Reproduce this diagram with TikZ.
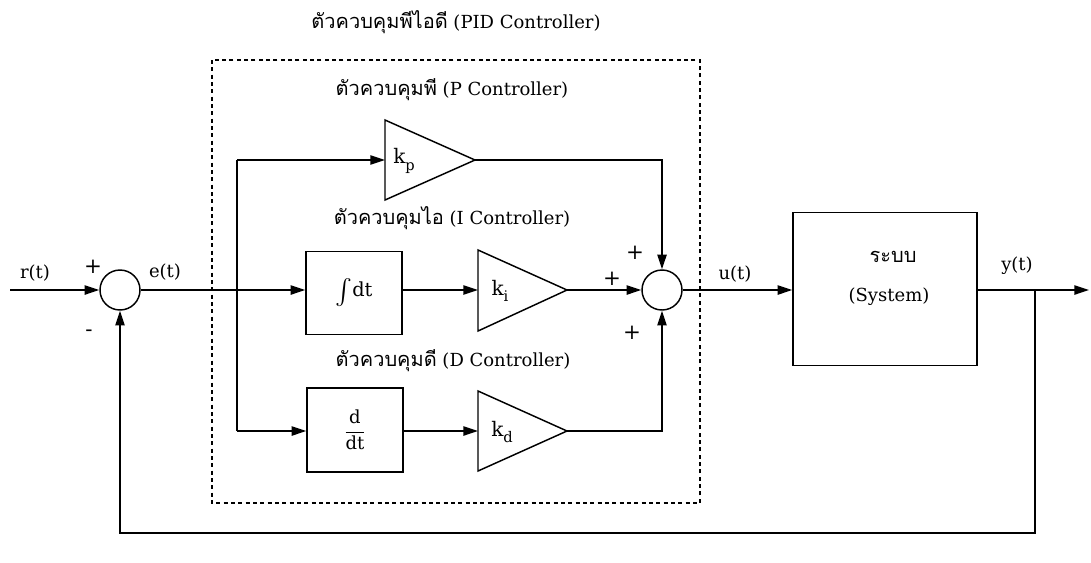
\documentclass[tikz,border=0pt]{standalone}
\usepackage{fontspec}
\usepackage{graphicx}
\setmainfont{DejaVu Serif}
\newfontfamily\thaifont[Script=Thai]{Loma}
\newcommand{\thaitext}[1]{{\thaifont\fontsize{15}{17}\selectfont #1}}
\usetikzlibrary{arrows.meta}
\begin{document}
\begin{tikzpicture}[x=0.75pt,y=-0.75pt,line width=1.1pt,
  >={Triangle[length=11pt,width=7pt]},
  sumj/.style={draw,circle,minimum size=30pt,inner sep=0pt},
  blockbox/.style={draw,inner sep=0pt},
  gain/.style={draw,line join=miter},
  lbl/.style={font=\fontsize{13.5}{16}\selectfont,inner sep=1pt},
  klbl/.style={font=\fontsize{15}{17}\selectfont,inner sep=1pt},
  sign/.style={font=\fontsize{16}{18}\selectfont,inner sep=0pt}]
\useasboundingbox (0,0) rectangle (1091,562);

% dashed PID boundary
\draw[dash pattern=on 3pt off 2.5pt, line width=0.8pt] (212,60) rectangle (700,503);

% titles
\node[lbl] (tpid) at (456,22) {\thaitext{ตัวควบคุมพีไอดี} (PID Controller)};
\node[lbl] (tp) at (452,90) {\thaitext{ตัวควบคุมพี} (P Controller)};
\node[lbl] (ti) at (452,218) {\thaitext{ตัวควบคุมไอ} (I Controller)};
\node[lbl] (td) at (453,361) {\thaitext{ตัวควบคุมดี} (D Controller)};

% summing junctions
\node[sumj] (s1) at (120,290) {};
\node[sumj] (s2) at (662,290) {};

% blocks
\node[blockbox,minimum width=72pt,minimum height=62pt] (int) at (354,293)
  {\fontsize{14.5}{16}\selectfont\raisebox{-0.55ex}{\scalebox{1.9}{$\int$}}dt};
\node[blockbox,minimum width=72pt,minimum height=63pt] (der) at (355,430)
  {\fontsize{13.5}{16}\selectfont$\displaystyle\frac{\hbox{d}}{\hbox{dt}}$};
\node[blockbox,minimum width=138pt,minimum height=115pt] (sys) at (885,289) {};
\node[lbl] (sysa) at (893,257) {\thaitext{ระบบ}};
\node[lbl] (sysb) at (889,297) {(System)};

% gains
\draw[gain] (385,120) -- (385,200) -- (475,160) -- cycle;
\draw[gain] (478,250) -- (478,331) -- (567,290) -- cycle;
\draw[gain] (478,391) -- (478,471) -- (567,431) -- cycle;
\coordinate (kpin) at (385,160); \coordinate (kpout) at (475,160);
\coordinate (kiin) at (478,290); \coordinate (kiout) at (567,290);
\coordinate (kdin) at (478,431); \coordinate (kdout) at (567,431);
\node[klbl] (kpl) at (404,161) {k\raisebox{-0.6ex}{\fontsize{11}{12}\selectfont p}};
\node[klbl] (kil) at (500,291) {k\raisebox{-0.6ex}{\fontsize{11}{12}\selectfont i}};
\node[klbl] (kdl) at (502,432) {k\raisebox{-0.6ex}{\fontsize{11}{12}\selectfont d}};

% connectors
\coordinate (rin) at (10,290);
\coordinate (bt) at (237,160);
\coordinate (bb) at (237,431);
\coordinate (yend) at (1089,290);
\coordinate (fb) at (1035,290);
\coordinate (fbd) at (1035,533);

\draw[->] (rin) -- (s1);
\draw[->] (s1) -- (int.west |- s1);
\draw (bt) -- (bb);
\draw[->] (bt) -- (kpin);
\draw[->] (bb) -- (der.west |- bb);
\draw[->] (int.east |- s1) -- (kiin);
\draw[->] (der.east |- bb) -- (kdin);
\draw[->] (kpout) -| (s2.north);
\draw[->] (kiout) -- (s2.west);
\draw[->] (kdout) -| (s2.south);
\draw[->] (s2) -- (sys.west |- s2);
\draw[->] (sys.east |- s2) -- (yend);
\draw[->] (fb) -- (fbd) -| (s1.south);

% signal labels
\node[lbl] (rl) at (35,273) {r(t)};
\node[lbl] (el) at (165,272) {e(t)};
\node[lbl] (ul) at (735,274) {u(t)};
\node[lbl] (yl) at (1017,266) {y(t)};

% signs
\node[sign] (p1) at (93,267) {+};
\node[sign] (m1) at (89,333) {-};
\node[sign] (p2) at (635,253) {+};
\node[sign] (p3) at (612,279) {+};
\node[sign] (p4) at (632,333) {+};
\end{tikzpicture}
\end{document}
